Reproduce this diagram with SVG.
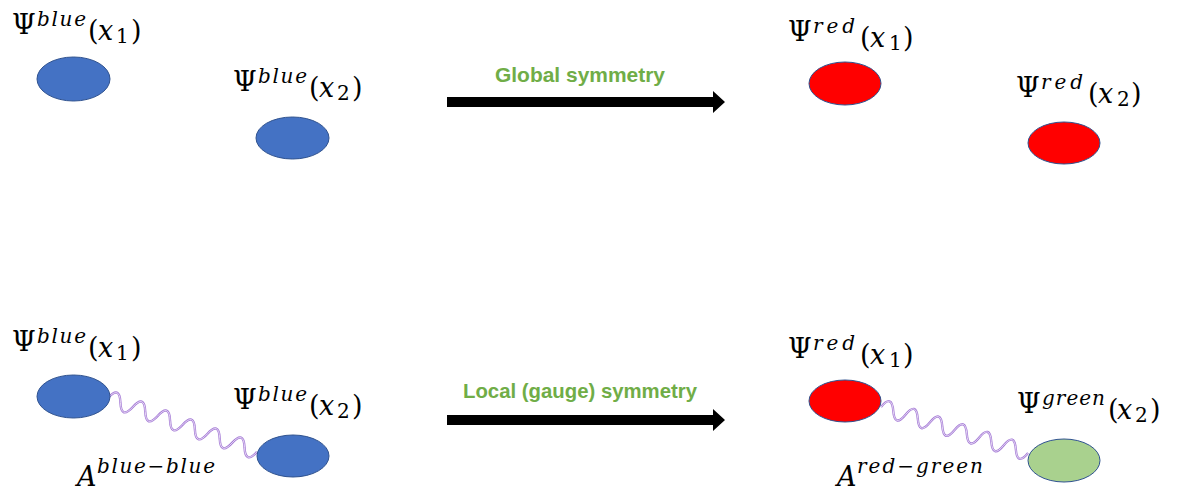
<svg xmlns="http://www.w3.org/2000/svg" width="1181" height="486" viewBox="0 0 1181 486">
<style>
.m{font-family:"DejaVu Serif","Liberation Serif",serif;font-size:27px;fill:#000}
.i{font-style:italic}
.s{font-size:20px;font-style:italic}
.n{font-size:20px;font-style:normal}
.b{fill:#4472C4;stroke:#2F528F;stroke-width:1}
.r{fill:#FF0000;stroke:#2F528F;stroke-width:1}
.g{fill:#A9D18E;stroke:#2F528F;stroke-width:1}
.lab{font-family:"Liberation Sans","Open Sans",sans-serif;font-weight:bold;font-size:20.5px;fill:#70AD47}
.w1{fill:none;stroke:#A57BD6;stroke-width:2.4}
.w2{fill:none;stroke:#EDE3F7;stroke-width:0.8}
</style>
<defs>
<path id="wave" d="M0,0 q6.6,-16 13.2,0 t13.2,0 t13.2,0 t13.2,0 t13.2,0 t13.2,0 t13.2,0 t13.2,0 t13.2,0 t13.2,0 t13.2,0 t13.2,0"/>
</defs>
<g id="connectors">
<polygon points="447,97 713,97 713,91 725,102 713,113 713,107 447,107" fill="#000"/>
<polygon points="447,415 713,415 713,409 725,420 713,431 713,425 447,425" fill="#000"/>
<g transform="translate(108,398) rotate(19.9)"><use href="#wave" class="w1"/><use href="#wave" class="w2"/></g>
<g transform="translate(881,407) rotate(17.4) scale(0.973,1)"><use href="#wave" class="w1"/><use href="#wave" class="w2"/></g>
</g>
<g id="label-global"><text class="lab" x="495" y="82" textLength="170" lengthAdjust="spacingAndGlyphs">Global symmetry</text></g>
<g id="label-local"><text class="lab" x="463" y="398" textLength="234" lengthAdjust="spacingAndGlyphs">Local (gauge) symmetry</text></g>
<g id="n-blue1-top"><ellipse class="b" cx="73.5" cy="79" rx="36.5" ry="22"/>
<text class="m" y="34"><tspan x="12">Ψ</tspan><tspan class="s" x="37" y="26" textLength="49">blue</tspan><tspan x="88" y="40">(</tspan><tspan class="i" x="98">x</tspan><tspan class="n" x="116" y="43">1</tspan><tspan x="131" y="40">)</tspan></text></g>
<g id="n-blue2-top"><ellipse class="b" cx="292.5" cy="138" rx="36.5" ry="21"/>
<text class="m" y="91"><tspan x="233">Ψ</tspan><tspan class="s" x="258" y="83" textLength="49">blue</tspan><tspan x="309" y="97">(</tspan><tspan class="i" x="319">x</tspan><tspan class="n" x="337" y="100">2</tspan><tspan x="352" y="97">)</tspan></text></g>
<g id="n-red1-top"><ellipse class="r" cx="845" cy="83.5" rx="36" ry="21.5"/>
<text class="m" y="41"><tspan x="788">Ψ</tspan><tspan class="s" x="813" y="33" textLength="42">red</tspan><tspan x="860" y="47">(</tspan><tspan class="i" x="870">x</tspan><tspan class="n" x="889" y="50">1</tspan><tspan x="903" y="47">)</tspan></text></g>
<g id="n-red2-top"><ellipse class="r" cx="1064" cy="143" rx="36" ry="21"/>
<text class="m" y="97"><tspan x="1016">Ψ</tspan><tspan class="s" x="1041" y="89" textLength="42">red</tspan><tspan x="1088" y="103">(</tspan><tspan class="i" x="1098">x</tspan><tspan class="n" x="1117" y="106">2</tspan><tspan x="1131" y="103">)</tspan></text></g>
<g id="n-blue1-bot"><ellipse class="b" cx="73.5" cy="396.5" rx="36.5" ry="21.5"/>
<text class="m" y="351"><tspan x="12">Ψ</tspan><tspan class="s" x="37" y="343" textLength="49">blue</tspan><tspan x="88" y="357">(</tspan><tspan class="i" x="98">x</tspan><tspan class="n" x="116" y="360">1</tspan><tspan x="131" y="357">)</tspan></text></g>
<g id="n-blue2-bot"><ellipse class="b" cx="293" cy="456" rx="36" ry="21"/>
<text class="m" y="409"><tspan x="233">Ψ</tspan><tspan class="s" x="258" y="401" textLength="49">blue</tspan><tspan x="309" y="415">(</tspan><tspan class="i" x="319">x</tspan><tspan class="n" x="337" y="418">2</tspan><tspan x="352" y="415">)</tspan></text></g>
<g id="n-red1-bot"><ellipse class="r" cx="845" cy="401" rx="36" ry="21"/>
<text class="m" y="358"><tspan x="788">Ψ</tspan><tspan class="s" x="813" y="350" textLength="42">red</tspan><tspan x="860" y="364">(</tspan><tspan class="i" x="870">x</tspan><tspan class="n" x="889" y="367">1</tspan><tspan x="903" y="364">)</tspan></text></g>
<g id="n-green2-bot"><ellipse class="g" cx="1064" cy="460.5" rx="36" ry="21.5"/>
<text class="m" y="413"><tspan x="1017">Ψ</tspan><tspan class="s" x="1042" y="405" textLength="63">green</tspan><tspan x="1108" y="419">(</tspan><tspan class="i" x="1117">x</tspan><tspan class="n" x="1135" y="422">2</tspan><tspan x="1150" y="419">)</tspan></text></g>
<g id="label-A-bb"><text class="m i" y="486"><tspan x="77">A</tspan><tspan class="s" x="97" y="473" textLength="118">blue−blue</tspan></text></g>
<g id="label-A-rg"><text class="m i" y="486"><tspan x="837">A</tspan><tspan class="s" x="857" y="473" textLength="126">red−green</tspan></text></g>
</svg>
